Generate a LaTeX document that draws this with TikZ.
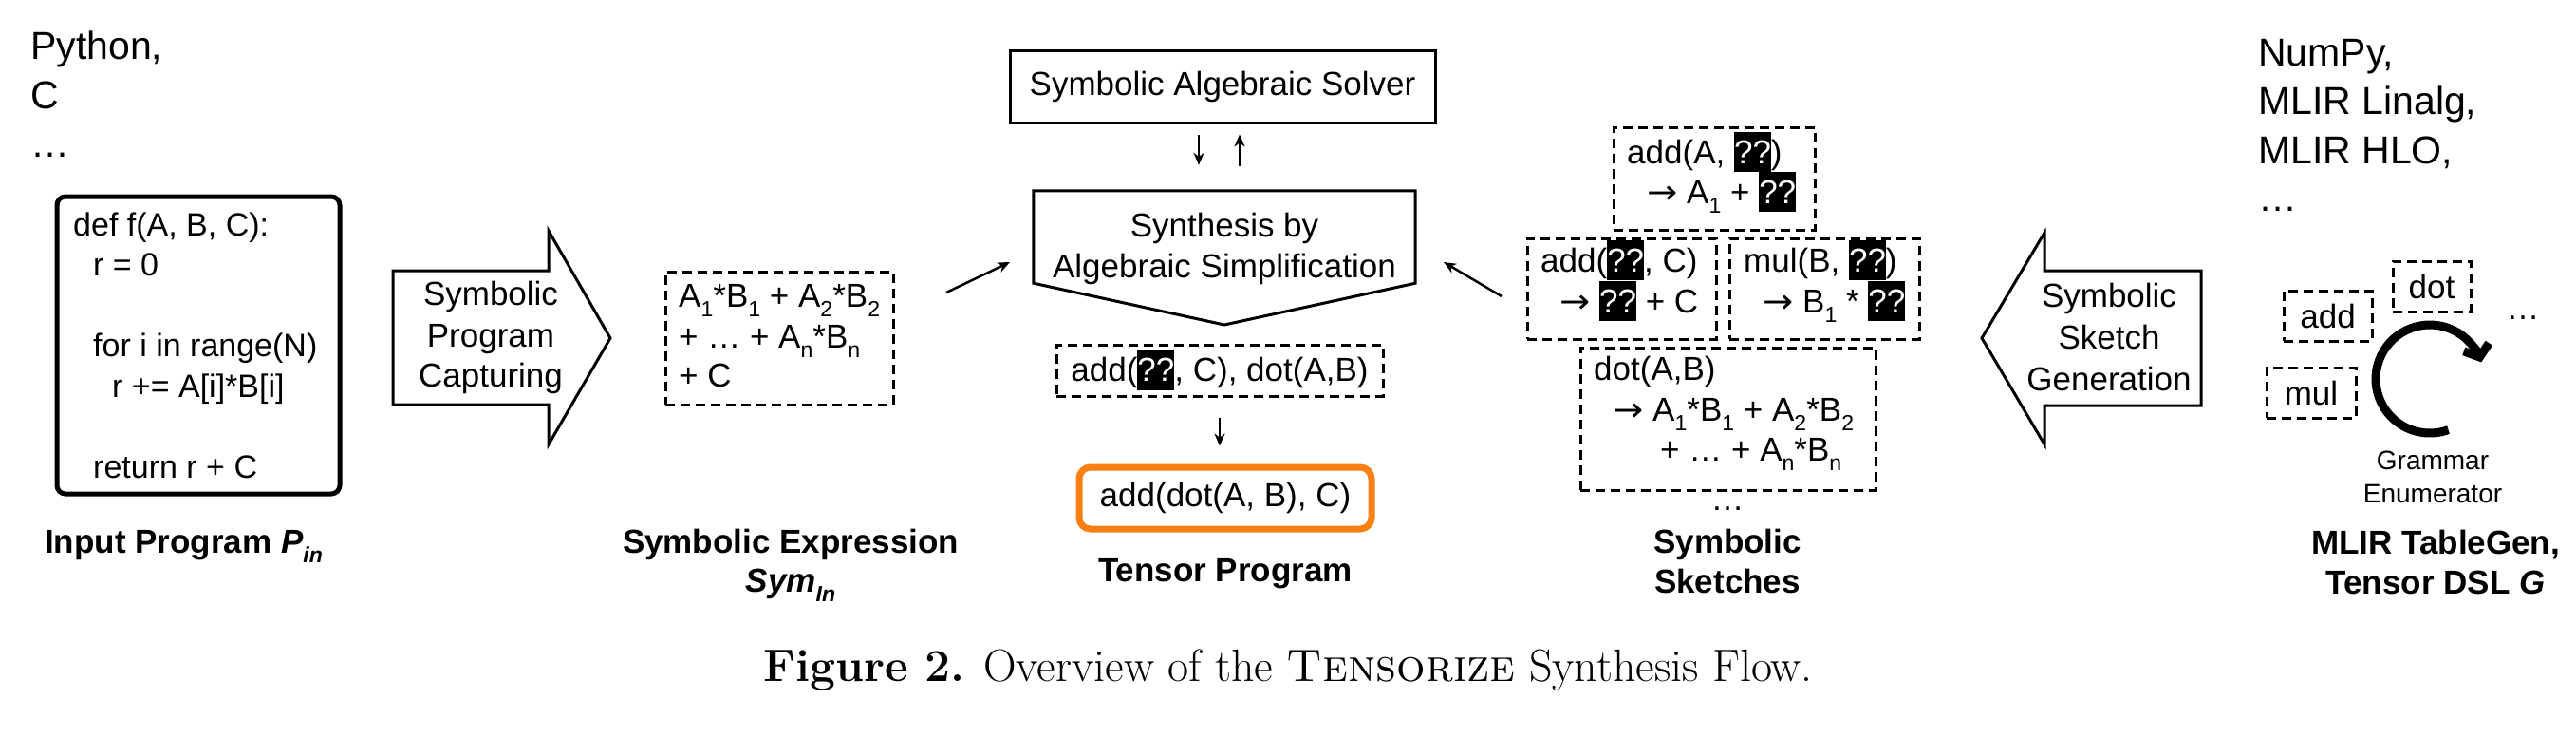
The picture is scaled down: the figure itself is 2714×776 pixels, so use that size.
\documentclass[tikz,border=0pt]{standalone}
\usepackage{fontspec}
\usepackage{graphicx}
\newfontfamily\arial{Liberation Sans}
\newfontfamily\dvs{DejaVu Sans}
\usetikzlibrary{arrows.meta}
\definecolor{orng}{RGB}{250,128,20}
\newcommand{\sbs}[1]{\raisebox{-0.3em}{\scalebox{0.66}{#1}}}
\newcommand{\qq}{{\setlength{\fboxsep}{0pt}\colorbox{black}{\color{white}\rule[-0.27em]{0pt}{1.2em}??}}}
\newcommand{\rarr}{{\dvs\scalebox{1.1}[1]{→}}}
\begin{document}
\begin{tikzpicture}[x=1pt,y=-1pt,
  txt/.style={font=\arial\fontsize{35}{42}\selectfont, inner sep=0pt},
  code/.style={font=\arial\fontsize{34}{42}\selectfont, inner sep=0pt},
  lbl/.style={font=\arial\bfseries\fontsize{35}{42}\selectfont, inner sep=0pt},
  big/.style={font=\arial\fontsize{41}{51}\selectfont, inner sep=0pt},
  small/.style={font=\arial\fontsize{28}{34}\selectfont, inner sep=0pt},
  dbox/.style={draw, dash pattern=on 10pt off 6pt, line width=3pt},
  sbox/.style={draw, line width=3pt},
  blk/.style={draw, line width=3pt, line join=miter},
  arr/.style={line width=2.5pt, -{Stealth[length=13pt,width=11pt]}}]
\useasboundingbox (0,0) rectangle (2714,776);

% ---------- left: input program
\node[big, anchor=base west] (py1) at (32,63) {Python,};
\node[big, anchor=base west] (py2) at (32,114) {C};
\node[big, anchor=base west] (py3) at (32,165) {…};

\node[draw, line width=5pt, rounded corners=9pt, minimum width=298pt, minimum height=313pt] (codebox) at (209,363.5) {};
\node[code, anchor=base west] (c1) at (77,248) {def f(A, B, C):};
\node[code, anchor=base west] (c2) at (98,290) {r = 0};
\node[code, anchor=base west] (c3) at (98,375) {for i in range(N)};
\node[code, anchor=base west] (c4) at (118,418) {r += A[i]*B[i]};
\node[code, anchor=base west] (c5) at (98,503) {return r + C};
\node[lbl, anchor=base west] (inlbl) at (47,582) {Input Program \textit{P}\sbs{\textit{in}}};

% ---------- block arrow right
\draw[blk] (414,285) -- (578,285) -- (578,243) -- (643,356) -- (578,468) -- (578,426) -- (414,426) -- cycle;
\node[txt, anchor=base] (spc1) at (517,321) {Symbolic};
\node[txt, anchor=base] (spc2) at (517,365) {Program};
\node[txt, anchor=base] (spc3) at (517,407) {Capturing};

% ---------- symbolic expression
\node[dbox, minimum width=240pt, minimum height=140pt] (sym) at (821,356) {};
\node[txt, anchor=base west] (sy1) at (715,323) {A\sbs{1}*B\sbs{1} + A\sbs{2}*B\sbs{2}};
\node[txt, anchor=base west] (sy2) at (715,366) {+ … + A\sbs{n}*B\sbs{n}};
\node[txt, anchor=base west] (sy3) at (715,407) {+ C};
\node[lbl, anchor=base] (symlbl1) at (833,582) {Symbolic Expression};
\node[lbl, anchor=base] (symlbl2) at (833,623) {\textit{Sym}\sbs{\textit{In}}};

% ---------- centre
\node[sbox, txt, minimum width=448pt, minimum height=75pt] (solver) at (1288,91.5) {Symbolic Algebraic Solver};
\node[inner sep=0pt, minimum width=402pt, minimum height=97pt] (pent) at (1290,249.5) {};
\coordinate (ptip) at (1290,342);
\draw[blk] (pent.south west) -- (pent.north west) -- (pent.north east) -- (pent.south east) -- (ptip) -- cycle;
\node[txt, anchor=base] (pt1) at (1290,249) {Synthesis by};
\node[txt, anchor=base] (pt2) at (1290,292) {Algebraic Simplification};

\draw[arr] ([xshift=-25pt,yshift=-11pt]solver.south) -- ([xshift=-27pt,yshift=27pt]pent.north);
\draw[arr] ([xshift=16pt,yshift=26pt]pent.north) -- ([xshift=18pt,yshift=-11pt]solver.south);

\node[dbox, txt, minimum width=344pt, minimum height=54pt] (cand) at (1285,390) {add(\qq, C), dot(A,B)};
\node[draw=orng, line width=7pt, rounded corners=12pt, minimum width=308pt, minimum height=65pt, txt] (tensor) at (1291,524.5) {add(dot(A, B), C)};
\node[lbl, anchor=base] (tplbl) at (1291,612) {Tensor Program};
\draw[arr] ([yshift=-21pt]cand.south) -- ([yshift=19pt]cand.south |- tensor.north);

\coordinate (s1) at (997,308);
\coordinate (e1) at (1064,276);
\draw[arr] (s1) -- (e1);
\coordinate (s2) at (1582,312);
\coordinate (e2) at (1521,276);
\draw[arr] (s2) -- (e2);

% ---------- sketches
\node[dbox, minimum width=212pt, minimum height=108pt] (sk1) at (1806,188) {};
\node[txt, anchor=base west] (sk1a) at (1714,172) {add(A, \qq)};
\node[txt, anchor=base west] (sk1b) at (1735,214) {\rarr\ A\sbs{1} + \qq};
\node[dbox, minimum width=199pt, minimum height=106pt] (sk2) at (1708.5,304) {};
\node[txt, anchor=base west] (sk2a) at (1623,286) {add(\qq, C)};
\node[txt, anchor=base west] (sk2b) at (1643,329) {\rarr\ \qq\ + C};
\node[dbox, minimum width=200pt, minimum height=106pt] (sk3) at (1922,304) {};
\node[txt, anchor=base west] (sk3a) at (1837,286) {mul(B, \qq)};
\node[txt, anchor=base west] (sk3b) at (1857,329) {\rarr\ B\sbs{1} * \qq};
\node[dbox, minimum width=311pt, minimum height=150pt] (sk4) at (1820.5,441) {};
\node[txt, anchor=base west] (sk4a) at (1679,400) {dot(A,B)};
\node[txt, anchor=base west] (sk4b) at (1699,443) {\rarr\ A\sbs{1}*B\sbs{1} + A\sbs{2}*B\sbs{2}};
\node[txt, anchor=base west] (sk4c) at (1749,485) {+ … + A\sbs{n}*B\sbs{n}};
\node[txt, anchor=base] (skdots) at (1820,537) {…};
\node[lbl, anchor=base] (sklbl1) at (1820,582) {Symbolic};
\node[lbl, anchor=base] (sklbl2) at (1820,624) {Sketches};

% ---------- block arrow left
\draw[blk] (2319,285) -- (2154,285) -- (2154,245) -- (2088,356) -- (2154,468) -- (2154,427) -- (2319,427) -- cycle;
\node[txt, anchor=base] (ssg1) at (2222,323) {Symbolic};
\node[txt, anchor=base] (ssg2) at (2222,367) {Sketch};
\node[txt, anchor=base] (ssg3) at (2222,411) {Generation};

% ---------- right: grammar
\node[big, anchor=base west] (np1) at (2379,70) {NumPy,};
\node[big, anchor=base west] (np2) at (2379,120) {MLIR Linalg,};
\node[big, anchor=base west] (np3) at (2379,172) {MLIR HLO,};
\node[big, anchor=base west] (np4) at (2379,222) {…};

\node[dbox, txt, minimum width=93pt, minimum height=53pt] (gadd) at (2452.5,332.5) {add};
\node[dbox, txt, minimum width=82pt, minimum height=53pt] (gdot) at (2562,301.5) {dot};
\node[dbox, txt, minimum width=94pt, minimum height=53pt] (gmul) at (2435,413.5) {mul};
\node[txt, anchor=base] (gdots) at (2658,336) {…};

\coordinate (gc) at (2560,399);
\draw[line width=9pt, -{Straight Barb[length=11pt,width=28pt]}] (2579.5,452.6) arc[start angle=-70, end angle=-342, radius=57pt];
\node[small, anchor=base] (ge1) at (2563,494) {Grammar};
\node[small, anchor=base] (ge2) at (2563,529) {Enumerator};
\node[lbl, anchor=base] (glbl1) at (2566,583) {MLIR TableGen,};
\node[lbl, anchor=base] (glbl2) at (2566,625) {Tensor DSL \textit{G}};

% ---------- caption
\node[font=\fontsize{48}{58}\selectfont, inner sep=0pt, anchor=base] (cap) at (1357,717) {\textbf{Figure 2.} Overview of the \textsc{Tensorize} Synthesis Flow.};
\end{tikzpicture}
\end{document}
